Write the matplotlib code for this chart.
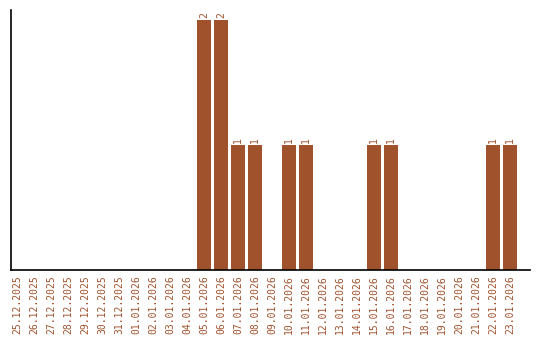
import matplotlib
matplotlib.use("Agg")
import matplotlib.pyplot as plt

dates = ["25.12.2025", "26.12.2025", "27.12.2025", "28.12.2025", "29.12.2025",
         "30.12.2025", "31.12.2025", "01.01.2026", "02.01.2026", "03.01.2026",
         "04.01.2026", "05.01.2026", "06.01.2026", "07.01.2026", "08.01.2026",
         "09.01.2026", "10.01.2026", "11.01.2026", "12.01.2026", "13.01.2026",
         "14.01.2026", "15.01.2026", "16.01.2026", "17.01.2026", "18.01.2026",
         "19.01.2026", "20.01.2026", "21.01.2026", "22.01.2026", "23.01.2026"]
counts = [0, 0, 0, 0, 0, 0, 0, 0, 0, 0,
          0, 2, 2, 1, 1, 0, 1, 1, 0, 0,
          0, 1, 1, 0, 0, 0, 0, 0, 1, 1]

color = "#A0522D"
fig = plt.figure(figsize=(5.4, 3.4), dpi=100)
ax = fig.add_axes([11/540, 70/340, 519/540, 260/340])
x = list(range(len(dates)))
ax.bar(x, counts, width=0.82, color=color)
for xi, c in zip(x, counts):
    if c > 0:
        ax.text(xi, c + 0.02, str(c), rotation=90, ha="center", va="bottom",
                color=color, fontsize=7, family="DejaVu Sans Mono")
ax.set_xlim(-0.35, 30.18)
ax.set_ylim(0, 2.08)
ax.set_xticks(x)
ax.set_xticklabels(dates, rotation=90, color=color, fontsize=7,
                   family="DejaVu Sans Mono")
ax.tick_params(axis="x", length=0, pad=4)
ax.set_yticks([])
ax.spines["top"].set_visible(False)
ax.spines["right"].set_visible(False)
ax.spines["left"].set_linewidth(1.2)
ax.spines["bottom"].set_linewidth(1.2)
fig.savefig("out.png", dpi=100)
